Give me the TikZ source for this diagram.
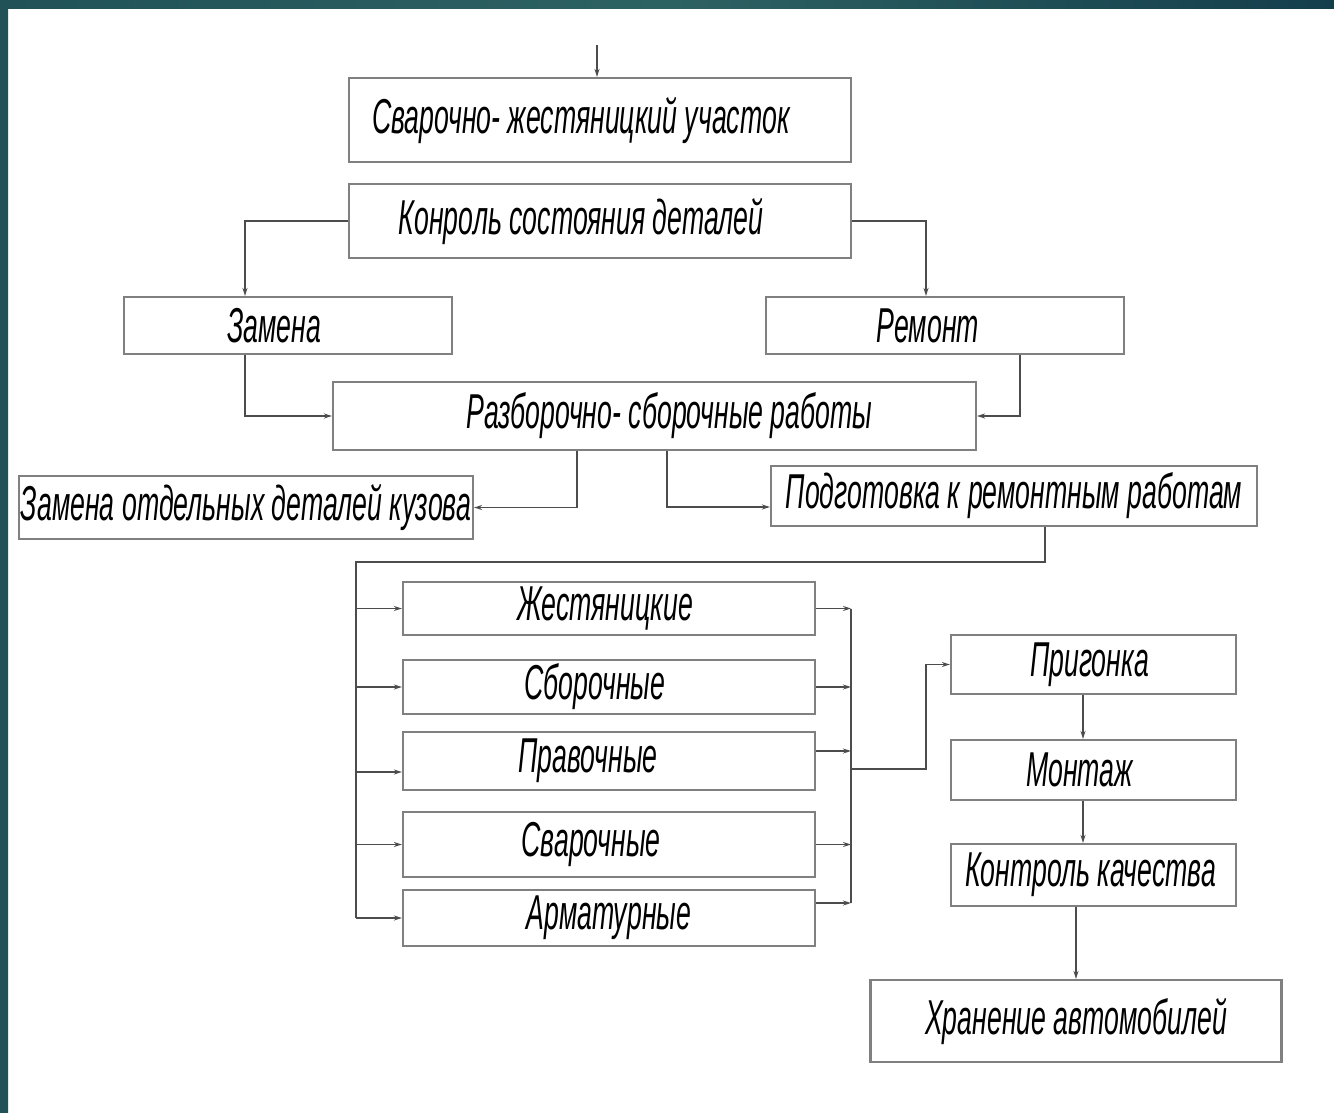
\documentclass[tikz,border=0pt]{standalone}
\usepackage{fontspec}
\setmainfont{Liberation Sans}
\newfontfamily\gost{Liberation Sans}[FakeStretch=0.545]
\usetikzlibrary{arrows.meta,calc}
\definecolor{tealL}{RGB}{32,82,88}
\definecolor{tealM}{RGB}{45,98,98}
\definecolor{tealR}{RGB}{20,62,76}
\newcommand\tx[2]{\hspace*{#1pt}#2}
\tikzset{
  box/.style={draw=black!50, line width=2.2pt, fill=white, inner sep=0pt,
    font=\gost\itshape\fontsize{49}{52}\selectfont},
  conn/.style={draw=black!70, line width=1.6pt},
  arr/.style={conn, -{Stealth[length=8pt,width=5pt]}}
}
\begin{document}
\begin{tikzpicture}[x=1pt,y=-1pt]
\useasboundingbox (0,0) rectangle (1334,1113);
\fill[white] (0,0) rectangle (1334,1113);
\shade[top color=tealL, bottom color=tealL] (0,0) rectangle (8,1113);
\shade[left color=tealL, right color=tealR, middle color=tealM] (0,0) rectangle (1334,9);

% boxes
\node[box, minimum width=502, minimum height=84] (b1) at (600,120) {\tx{-38}{Сварочно- жестяницкий участок}};
\node[box, minimum width=502, minimum height=74] (b2) at (600,221) {\tx{-38}{Конроль состояния деталей}};
\node[box, minimum width=328, minimum height=57] (b3) at (288,325.5) {\tx{-28}{Замена}};
\node[box, minimum width=358, minimum height=57] (b4) at (945,325.5) {\tx{-34}{Ремонт}};
\node[box, minimum width=643, minimum height=68] (b5) at (654.5,416) {\tx{30}{Разборочно- сборочные работы}};
\node[box, minimum width=454, minimum height=63] (b6) at (246,507.5) {Замена отдельных деталей кузова};
\node[box, minimum width=486, minimum height=60] (b7) at (1014,496) {Подготовка к ремонтным работам};
\node[box, minimum width=412, minimum height=53] (b8) at (609,608.5) {\tx{-8}{Жестяницкие}};
\node[box, minimum width=412, minimum height=54] (b9) at (609,687) {\tx{-28}{Сборочные}};
\node[box, minimum width=412, minimum height=58] (b10) at (609,761) {\tx{-42}{Правочные}};
\node[box, minimum width=412, minimum height=65] (b11) at (609,844.5) {\tx{-36}{Сварочные}};
\node[box, minimum width=412, minimum height=56] (b12) at (609,918) {Арматурные};
\node[box, minimum width=285, minimum height=59] (b13) at (1093.5,664.5) {\tx{-8}{Пригонка}};
\node[box, minimum width=285, minimum height=60] (b14) at (1093.5,770) {\tx{-28}{Монтаж}};
\node[box, minimum width=285, minimum height=62] (b15) at (1093.5,875) {\tx{-6}{Контроль качества}};
\node[box, minimum width=411, minimum height=82] (b16) at (1076,1021) {Хранение автомобилей};

% helper coordinates
\coordinate (in0) at (597,45);
\coordinate (x245) at (245,0);
\coordinate (x926) at (926,0);
\coordinate (x1020) at (1020,0);
\coordinate (x577) at (577,0);
\coordinate (x667) at (667,0);
\coordinate (x1045) at (1045,0);
\coordinate (t1) at (356,562);
\coordinate (t2) at (356,918);
\coordinate (x851) at (851,0);
\coordinate (m1) at (851,769);
\coordinate (x1083) at (1083,0);
\coordinate (x1076) at (1076,0);
\coordinate (p7) at ([yshift=-11pt]b7.west);
\coordinate (l10) at ([yshift=-11pt]b10.west);
\coordinate (r10) at ([yshift=10pt]b10.east);
\coordinate (r12) at ([yshift=15pt]b12.east);

% connectors
\draw[arr] (in0) -- (b1.north -| in0);
\draw[arr] (b2.west) -| (b3.north -| x245);
\draw[arr] (b2.east) -| (b4.north -| x926);
\draw[arr] (b3.south -| x245) |- (b5.west);
\draw[arr] (b4.south -| x1020) |- (b5.east);
\draw[arr] (b5.south -| x577) |- (b6.east);
\draw[arr] (b5.south -| x667) |- (p7);
\draw[conn] (b7.south -| x1045) |- (t1) -- (t2);
\draw[arr] (b8.west -| t1) -- (b8.west);
\draw[arr] (b9.west -| t1) -- (b9.west);
\draw[arr] (l10 -| t1) -- (l10);
\draw[arr] (b11.west -| t1) -- (b11.west);
\draw[arr] (t2) -- (b12.west);
\draw[arr] (b8.east) -- (b8.east -| x851);
\draw[arr] (b9.east) -- (b9.east -| x851);
\draw[arr] (r10) -- (r10 -| x851);
\draw[arr] (b11.east) -- (b11.east -| x851);
\draw[arr] (r12) -- (r12 -| x851);
\draw[conn] (b8.east -| x851) -- (r12 -| x851);
\draw[arr] (m1) -- ++(75,0) |- (b13.west);
\draw[arr] (b13.south -| x1083) -- (b14.north -| x1083);
\draw[arr] (b14.south -| x1083) -- (b15.north -| x1083);
\draw[arr] (b15.south -| x1076) -- (b16.north -| x1076);
\end{tikzpicture}
\end{document}
